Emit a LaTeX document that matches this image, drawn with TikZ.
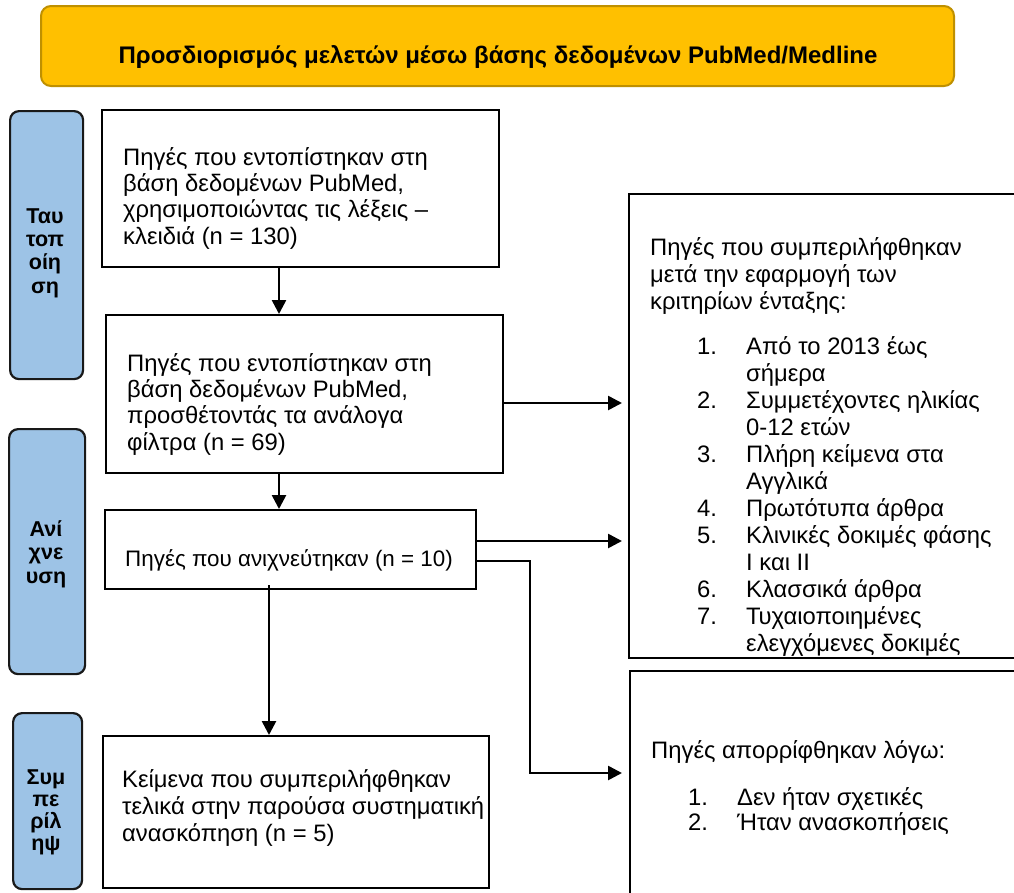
\documentclass[tikz,border=0pt]{standalone}
\usepackage{fontspec}
\setmainfont{Liberation Sans}
\usetikzlibrary{arrows.meta}
\definecolor{bannerfill}{HTML}{FFC000}
\definecolor{bannerdraw}{HTML}{BF9000}
\definecolor{tabfill}{HTML}{9DC3E6}
\tikzset{
  box/.style={draw=black, line width=2.4pt, fill=white, anchor=north west, inner sep=0pt},
  tabbox/.style={draw=black!90, line width=2.2pt, fill=tabfill, rounded corners=9pt, anchor=north west, inner sep=0pt},
  txt/.style={font=\fontsize{23.8}{26.2}\selectfont, align=left, inner sep=0pt, anchor=base west},
  rtxt/.style={font=\fontsize{23.8}{27}\selectfont, align=left, inner sep=0pt, anchor=base west},
  tabtxt/.style={font=\bfseries\fontsize{21.5}{23.2}\selectfont, align=center, inner sep=0pt, anchor=base},
  arr/.style={line width=2.6pt, -{Triangle[length=14pt,width=14pt]}},
}
\begin{document}
\begin{tikzpicture}[x=1pt,y=-1pt]
\useasboundingbox (0,0) rectangle (1014,892);
\clip (0,0) rectangle (1014,892);
\fill[white] (0,0) rectangle (1014,892);
% banner
\node[draw=bannerdraw, line width=2pt, fill=bannerfill, rounded corners=10pt, anchor=north west, inner sep=0pt, minimum width=913pt, minimum height=80pt] (banner) at (40,5) {};
\node[font=\bfseries\fontsize{24}{26}\selectfont, inner sep=0pt, anchor=base] (title) at (498,63) {Προσδιορισμός μελετών μέσω βάσης δεδομένων PubMed/Medline};
% tabs
\node[tabbox, minimum width=73pt, minimum height=268pt] (tab1) at (9,110) {};
\node[tabbox, minimum width=76pt, minimum height=245pt] (tab2) at (8,428) {};
\node[tabbox, minimum width=69pt, minimum height=176pt] (tab3) at (12,712) {};
\node[tabtxt] (tab1t) at (45,293) {Ταυ\\τοπ\\οίη\\ση};
\node[tabtxt] (tab2t) at (46,583) {Ανί\\χνε\\υση};
\node[tabtxt, font=\bfseries\fontsize{21.5}{21.7}\selectfont] (tab3t) at (46,850) {Συμ\\πε\\ρίλ\\ηψ};
% main boxes
\node[box, minimum width=397pt, minimum height=157pt] (b1) at (101,109) {};
\node[box, minimum width=397pt, minimum height=158pt] (b2) at (105,314) {};
\node[box, minimum width=371pt, minimum height=79pt] (b3) at (104,509) {};
\node[box, minimum width=386pt, minimum height=152pt] (b4) at (102,735) {};
\node[txt] (b1t) at (123,244) {Πηγές που εντοπίστηκαν στη\\βάση δεδομένων PubMed,\\χρησιμοποιώντας τις λέξεις –\\κλειδιά (n = 130)};
\node[txt] (b2t) at (127,450) {Πηγές που εντοπίστηκαν στη\\βάση δεδομένων PubMed,\\προσθέτοντάς τα ανάλογα\\φίλτρα (n = 69)};
\node[txt, font=\fontsize{22.4}{26}\selectfont] (b3t) at (125,566) {Πηγές που ανιχνεύτηκαν (n = 10)};
\node[txt, font=\fontsize{23.8}{26.7}\selectfont] (b4t) at (122,841) {Κείμενα που συμπεριλήφθηκαν\\τελικά στην παρούσα συστηματική\\ανασκόπηση (n = 5)};
% right boxes
\node[box, minimum width=420pt, minimum height=464pt] (r1) at (628,193) {};
\node[box, minimum width=420pt, minimum height=240pt] (r2) at (629,670) {};
\node[rtxt] (r1t) at (650,651) {Πηγές που συμπεριλήφθηκαν\\μετά την εφαρμογή των\\κριτηρίων ένταξης:\\[18pt]%
\makebox[96pt][l]{\hspace*{47pt}1.}Από το 2013 έως\\
\makebox[96pt]{}σήμερα\\
\makebox[96pt][l]{\hspace*{47pt}2.}Συμμετέχοντες ηλικίας\\
\makebox[96pt]{}0-12 ετών\\
\makebox[96pt][l]{\hspace*{47pt}3.}Πλήρη κείμενα στα\\
\makebox[96pt]{}Αγγλικά\\
\makebox[96pt][l]{\hspace*{47pt}4.}Πρωτότυπα άρθρα\\
\makebox[96pt][l]{\hspace*{47pt}5.}Κλινικές δοκιμές φάσης\\
\makebox[96pt]{}Ι και ΙΙ\\
\makebox[96pt][l]{\hspace*{47pt}6.}Κλασσικά άρθρα\\
\makebox[96pt][l]{\hspace*{47pt}7.}Τυχαιοποιημένες\\
\makebox[96pt]{}ελεγχόμενες δοκιμές};
\node[rtxt, font=\fontsize{23.8}{25}\selectfont] (r2t) at (651,830) {Πηγές απορρίφθηκαν λόγω:\\[22pt]%
\makebox[86pt][l]{\hspace*{37pt}1.}Δεν ήταν σχετικές\\
\makebox[86pt][l]{\hspace*{37pt}2.}Ήταν ανασκοπήσεις};
% connector anchors
\coordinate (ax1) at (279,0);
\coordinate (ax3) at (269,0);
\coordinate (elb) at (530,0);
\coordinate (y2) at (0,403);
\coordinate (y3a) at (0,541);
\coordinate (y3b) at (0,561);
\coordinate (y4) at (0,773);
% connectors
\draw[arr] (b1.south -| ax1) -- (b2.north -| ax1);
\draw[arr] (b2.south -| ax1) -- (b3.north -| ax1);
\draw[arr, shorten >=6pt] (b2.east |- y2) -- (r1.west |- y2);
\draw[arr, shorten >=6pt] (b3.east |- y3a) -- (r1.west |- y3a);
\draw[arr, shorten >=7pt] (b3.east |- y3b) -- (elb |- y3b) -- (elb |- y4) -- (r2.west |- y4);
\draw[arr] ([yshift=5pt]b3.south -| ax3) -- (b4.north -| ax3);
\end{tikzpicture}
\end{document}
